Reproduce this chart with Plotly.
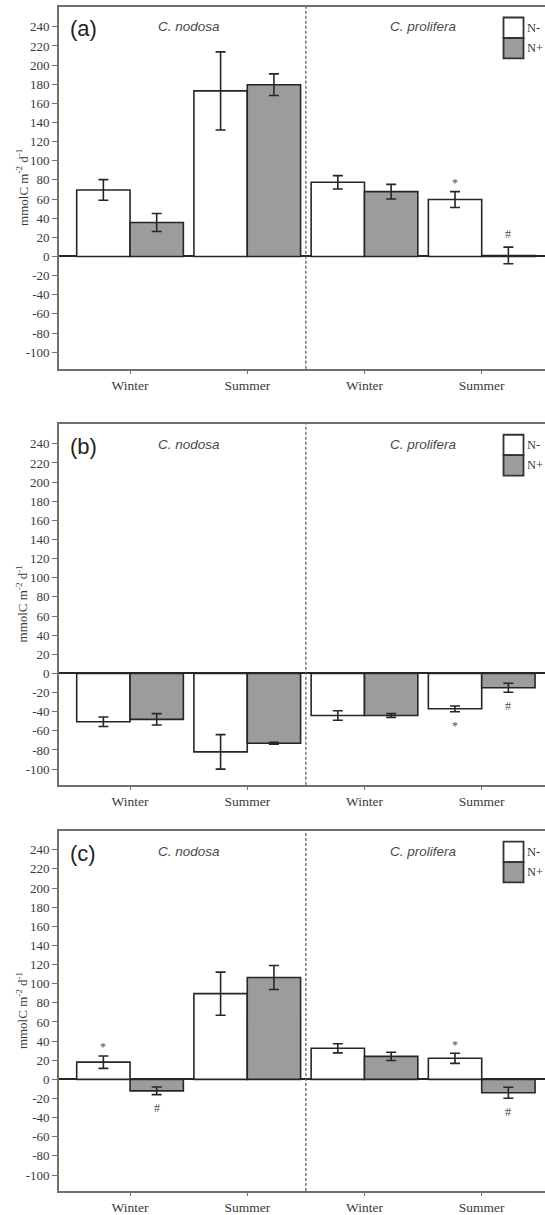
import plotly.graph_objects as go
from plotly.subplots import make_subplots

# ---------------- data ----------------
seasons = ["Winter", "Summer", "Winter", "Summer"]
series_names = ["N-", "N+"]
species = ["C. nodosa", "C. prolifera"]
species_centers = [0.5, 2.5]
panel_labels = ["(a)", "(b)", "(c)"]

a_nminus = [69.5, 173, 77.5, 59.5]
a_nminus_err = [10.8, 40.8, 7, 8.3]
a_nplus = [35.5, 179.5, 67.7, 1.0]
a_nplus_err = [9.4, 11.3, 7.6, 8.7]

b_nminus = [-50.5, -82, -44, -37]
b_nminus_err = [5, 18, 5, 3]
b_nplus = [-48, -73, -44, -15]
b_nplus_err = [6, 1, 2, 4.7]

c_nminus = [18, 89.6, 32.5, 22]
c_nminus_err = [6.5, 22.5, 4.8, 5.3]
c_nplus = [-12, 106.5, 24, -14]
c_nplus_err = [4, 12.6, 4.3, 5.8]

# significance marks: (series, category index, symbol)
sig_a = [("N-", 3, "*"), ("N+", 3, "#")]
sig_b = [("N-", 3, "*"), ("N+", 3, "#")]
sig_c = [("N-", 0, "*"), ("N+", 0, "#"), ("N-", 3, "*"), ("N+", 3, "#")]

yticks = list(range(-100, 241, 20))
yticktext = [str(v) for v in yticks]

panels = [
    dict(nm=a_nminus, nme=a_nminus_err, np_=a_nplus, npe=a_nplus_err, sig=sig_a),
    dict(nm=b_nminus, nme=b_nminus_err, np_=b_nplus, npe=b_nplus_err, sig=sig_b),
    dict(nm=c_nminus, nme=c_nminus_err, np_=c_nplus, npe=c_nplus_err, sig=sig_c),
]

# ---------------- styling ----------------
W, H = 545, 1215
ML, MR, MT, MB = 59, 0, 7, 20
domains = [[0.69444, 1.0], [0.34318, 0.64756], [0.0, 0.30387]]
yranges = [[-117.4, 260.7], [-116.3, 260.4], [-116.7, 259.4]]
xrange_ = [-0.606, 3.54]
bargap = 0.09
fill = {"N-": "#ffffff", "N+": "#9c9c9c"}
serif = "Liberation Serif, Times New Roman, serif"
sans = "Liberation Sans, Arial, sans-serif"
frame = "#707070"
txt = "#3a3a3a"

fig = make_subplots(rows=3, cols=1)

xs = list(range(len(seasons)))
half = (1 - bargap) / 4.0

for i, p in enumerate(panels):
    row = i + 1
    for name, vals, errs in [("N-", p["nm"], p["nme"]), ("N+", p["np_"], p["npe"])]:
        fig.add_trace(
            go.Bar(
                x=xs, y=vals, name=name, showlegend=False,
                marker=dict(color=fill[name], line=dict(color="#262626", width=1.6)),
                error_y=dict(type="data", array=errs, color="#262626",
                             thickness=1.6, width=5),
            ),
            row=row, col=1,
        )
    ax = "" if i == 0 else str(i + 1)
    xref = "x" + ax
    yref = "y" + ax
    # significance marks
    for (sname, idx, sym) in p["sig"]:
        vals = p["nm"] if sname == "N-" else p["np_"]
        errs = p["nme"] if sname == "N-" else p["npe"]
        v = vals[idx]
        e = errs[idx]
        sgn = 1 if v >= 0 else -1
        off = 12 if sym == "*" else 14
        xpos = idx - half if sname == "N-" else idx + half
        ypos = v + sgn * (e + off)
        if sym == "*":
            ypos -= 3
        fig.add_annotation(x=xpos, y=ypos, xref=xref, yref=yref, text=sym,
                           showarrow=False, yanchor="middle",
                           font=dict(family=serif, size=12, color="#505050"))
    # dashed separator
    fig.add_shape(type="line", xref=xref, yref=yref + " domain",
                  x0=1.5, x1=1.5, y0=0, y1=1,
                  line=dict(color="#555555", width=1.2, dash="3px,2px"))
    # panel label
    fig.add_annotation(x=(83 - ML) / (W - ML), y=1 - 22 / 362.0,
                       xref=xref + " domain", yref=yref + " domain",
                       text=panel_labels[i], showarrow=False,
                       xanchor="center", yanchor="middle",
                       font=dict(family=sans, size=22, color="#222222"))
    # species labels
    for sp, cx in zip(species, species_centers):
        fig.add_annotation(x=cx, y=1 - 20 / 362.0,
                           xref=xref, yref=yref + " domain", text="<i>" + sp + "</i>",
                           showarrow=False, xanchor="center", yanchor="middle",
                           font=dict(family=sans, size=13.5, color="#4a4a4a"))
    # legend boxes
    bx0 = (503.5 - ML) / (W - ML)
    bx1 = (523.5 - ML) / (W - ML)
    ph = 362.0
    for k, name in enumerate(series_names):
        top = 10.5 + k * 20.5
        fig.add_shape(type="rect", xref=xref + " domain", yref=yref + " domain",
                      x0=bx0, x1=bx1, y0=1 - (top + 20.5) / ph, y1=1 - top / ph,
                      fillcolor=fill[name], line=dict(color="#333333", width=1.8))
        fig.add_annotation(x=(525 - ML) / (W - ML), y=1 - (top + 10.25) / ph,
                           xref=xref + " domain", yref=yref + " domain",
                           text=name, showarrow=False, xanchor="left", yanchor="middle",
                           font=dict(family=serif, size=12.5, color=txt))
    # y-axis title
    fig.add_annotation(x=(22 - ML) / (W - ML), y=0.5,
                       xref="paper", yref=yref + " domain",
                       text="mmolC m<sup>-2</sup> d<sup>-1</sup>", textangle=-90,
                       showarrow=False, xanchor="center", yanchor="middle",
                       font=dict(family=serif, size=13, color=txt))

    fig.update_xaxes(row=row, col=1, range=xrange_, tickvals=xs, ticktext=seasons,
                     showline=True, linecolor=frame, linewidth=1.8, mirror=True,
                     ticks="outside", ticklen=3, tickcolor=frame, tickwidth=1,
                     showgrid=False, zeroline=False,
                     tickfont=dict(family=serif, size=13.5, color=txt))
    fig.update_yaxes(row=row, col=1, range=yranges[i], domain=domains[i],
                     tickvals=yticks, ticktext=yticktext,
                     showline=True, linecolor=frame, linewidth=1.8, mirror=False,
                     ticks="outside", ticklen=5, tickcolor=frame, tickwidth=1.2,
                     showgrid=False, zeroline=True, zerolinecolor="#262626",
                     zerolinewidth=1.6,
                     tickfont=dict(family=serif, size=13, color=txt))

fig.update_layout(
    width=W, height=H,
    margin=dict(l=ML, r=MR, t=MT, b=MB),
    barmode="group", bargap=bargap, bargroupgap=0,
    plot_bgcolor="white", paper_bgcolor="white",
)

fig.write_html("out.html")
